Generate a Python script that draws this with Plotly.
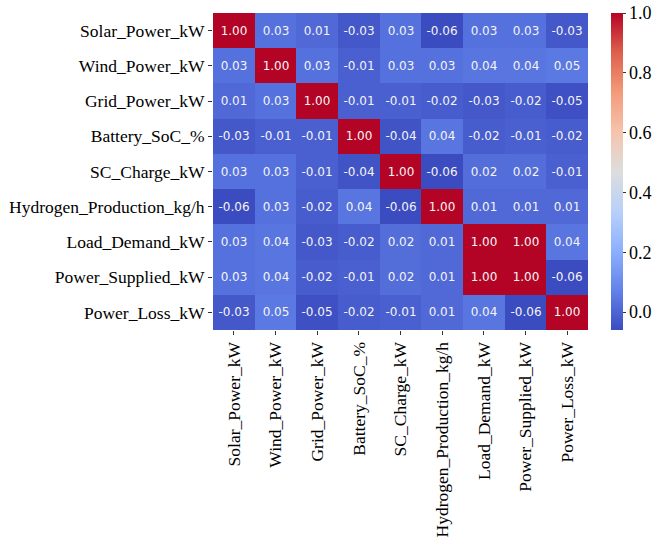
import plotly.graph_objects as go

labels = [
    "Solar_Power_kW", "Wind_Power_kW", "Grid_Power_kW", "Battery_SoC_%",
    "SC_Charge_kW", "Hydrogen_Production_kg/h", "Load_Demand_kW",
    "Power_Supplied_kW", "Power_Loss_kW",
]

solar = [1.00, 0.03, 0.01, -0.03, 0.03, -0.06, 0.03, 0.03, -0.03]
wind = [0.03, 1.00, 0.03, -0.01, 0.03, 0.03, 0.04, 0.04, 0.05]
grid = [0.01, 0.03, 1.00, -0.01, -0.01, -0.02, -0.03, -0.02, -0.05]
battery = [-0.03, -0.01, -0.01, 1.00, -0.04, 0.04, -0.02, -0.01, -0.02]
sc_charge = [0.03, 0.03, -0.01, -0.04, 1.00, -0.06, 0.02, 0.02, -0.01]
hydrogen = [-0.06, 0.03, -0.02, 0.04, -0.06, 1.00, 0.01, 0.01, 0.01]
load = [0.03, 0.04, -0.03, -0.02, 0.02, 0.01, 1.00, 1.00, 0.04]
supplied = [0.03, 0.04, -0.02, -0.01, 0.02, 0.01, 1.00, 1.00, -0.06]
loss = [-0.03, 0.05, -0.05, -0.02, -0.01, 0.01, 0.04, -0.06, 1.00]

corr = [solar, wind, grid, battery, sc_charge, hydrogen, load, supplied, loss]

colorbar_ticks = [0.0, 0.2, 0.4, 0.6, 0.8, 1.0]

# diverging blue-white-red scale (coolwarm)
coolwarm = [
    [0.0, "rgb(59,76,192)"],
    [0.125, "rgb(98,130,234)"],
    [0.25, "rgb(141,176,254)"],
    [0.375, "rgb(184,208,249)"],
    [0.5, "rgb(221,221,221)"],
    [0.625, "rgb(245,196,173)"],
    [0.75, "rgb(244,154,123)"],
    [0.875, "rgb(222,96,77)"],
    [1.0, "rgb(180,4,38)"],
]

serif = "Liberation Serif, Times New Roman, serif"

text = [[f"{v:.2f}" for v in row] for row in corr]

fig = go.Figure(
    go.Heatmap(
        z=corr,
        x=labels,
        y=labels,
        text=text,
        texttemplate="%{text}",
        textfont=dict(family="DejaVu Sans", size=12, color="#f4f4f4"),
        colorscale=coolwarm,
        zmin=-0.06,
        zmax=1.0,
        xgap=0,
        ygap=0,
        colorbar=dict(
            x=1.061,
            xanchor="left",
            xpad=0,
            y=0.5,
            yanchor="middle",
            len=1.0,
            ypad=0,
            thickness=12,
            outlinewidth=0,
            tickvals=colorbar_ticks,
            ticktext=[f"{t:.1f}" for t in colorbar_ticks],
            ticks="outside",
            ticklen=3,
            tickcolor="#333",
            tickfont=dict(family=serif, size=18, color="black"),
        ),
    )
)

fig.update_layout(
    width=652,
    height=554,
    margin=dict(l=213, r=64, t=13, b=224, autoexpand=False),
    paper_bgcolor="white",
    plot_bgcolor="white",
    xaxis=dict(
        tickangle=-90,
        ticks="outside",
        ticklen=4,
        tickcolor="#333",
        tickfont=dict(family=serif, size=17.5, color="black"),
        showgrid=False,
        zeroline=False,
        automargin=False,
    ),
    yaxis=dict(
        autorange="reversed",
        ticks="outside",
        ticklen=4,
        tickcolor="#333",
        tickfont=dict(family=serif, size=17.5, color="black"),
        showgrid=False,
        zeroline=False,
        automargin=False,
    ),
)

fig.write_html("out.html")
